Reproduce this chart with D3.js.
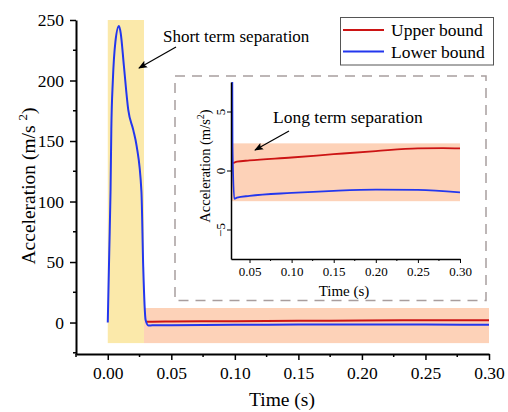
<!DOCTYPE html>
<html>
<head>
<meta charset="utf-8">
<script src="https://cdn.jsdelivr.net/npm/d3@7"></script>
<style>
  body { margin: 0; background: #fff; }
  svg text { font-family: "Liberation Serif", "Times New Roman", "DejaVu Serif", serif !important; fill: #000; }
</style>
</head>
<body>
<svg id="chart" width="508" height="412"></svg>
<script>
// data
var lowerTime  = [0, 0.0012, 0.0022, 0.0028, 0.004, 0.006, 0.0088, 0.0102, 0.0127, 0.0161, 0.0201, 0.0227, 0.0265, 0.0279, 0.0298, 0.0319, 0.035, 0.05, 0.1, 0.15, 0.2, 0.25, 0.3]
var lowerAccel = [0, 60, 110, 160, 200, 232, 245, 239, 212, 176, 159, 146, 108, 46, 2, -2.4, -2.3, -2.15, -1.9, -1.72, -1.62, -1.65, -1.85]
var upperTime  = [0.0305, 0.035, 0.05, 0.1, 0.15, 0.2, 0.25, 0.28, 0.3]
var upperAccel = [0.62, 0.75, 0.85, 1.1, 1.38, 1.65, 1.88, 1.9, 1.88]

var shortBand = {x0: 0, x1: 0.0285, y0: -17, y1: 250}
var longBand  = {x0: 0.0285, x1: 0.30, y0: -17, y1: 12}
var insetBand = {y0: -2.6, y1: 2.3}

var mainXTicks = [0, 0.05, 0.10, 0.15, 0.20, 0.25, 0.30]
var mainYTicks = [0, 50, 100, 150, 200, 250]
var insetXTicks = [0.05, 0.10, 0.15, 0.20, 0.25, 0.30]
var insetYTicks = [-5, 0, 5]

var seriesNames = ['Upper bound', 'Lower bound']
var colors = {upper: '#cc1414', lower: '#2337ee'}

var lower = lowerTime.map(function (t, i) { return {t: t, a: lowerAccel[i]} })
var upper = upperTime.map(function (t, i) { return {t: t, a: upperAccel[i]} })

var svg = d3.select('#chart')

svg.append('defs').append('marker')
  .attr('id', 'arrow')
  .attr('viewBox', '0 0 10 10')
  .attr('refX', 9).attr('refY', 5)
  .attr('markerWidth', 9).attr('markerHeight', 9)
  .attr('markerUnits', 'userSpaceOnUse')
  .attr('orient', 'auto')
  .append('path').attr('d', 'M0,1 L10,5 L0,9 L2,5 Z').attr('fill', '#000')

// main chart
var x = d3.scaleLinear().domain([-0.025, 0.30]).range([76, 489])
var y = d3.scaleLinear().domain([-26, 250]).range([354, 20])

svg.append('rect')
  .attr('x', x(shortBand.x0)).attr('width', x(shortBand.x1) - x(shortBand.x0))
  .attr('y', y(shortBand.y1)).attr('height', y(shortBand.y0) - y(shortBand.y1))
  .attr('fill', '#fbe9aa')
svg.append('rect')
  .attr('x', x(longBand.x0)).attr('width', x(longBand.x1) - x(longBand.x0))
  .attr('y', y(longBand.y1)).attr('height', y(longBand.y0) - y(longBand.y1))
  .attr('fill', '#fdd2b8')

var line = d3.line().x(function (d) { return x(d.t) }).y(function (d) { return y(d.a) }).curve(d3.curveMonotoneX)
svg.append('path').datum(upper).attr('d', line).attr('fill', 'none').attr('stroke', colors.upper).attr('stroke-width', 2)
svg.append('path').datum(lower).attr('d', line).attr('fill', 'none').attr('stroke', colors.lower).attr('stroke-width', 2)

// axes (origin style, minor ticks between majors)
var xAxis = svg.append('g').attr('transform', 'translate(0,354)')
  .call(d3.axisBottom(x).tickValues(mainXTicks).tickFormat(d3.format('.2f')).tickSizeInner(6).tickSizeOuter(0).tickPadding(7))
xAxis.append('g').selectAll('line').data(d3.range(-0.025, 0.30, 0.05))
  .enter().append('line').attr('x1', function (d) { return x(d) }).attr('x2', function (d) { return x(d) })
  .attr('y1', 0).attr('y2', 3).attr('stroke', '#000').attr('stroke-width', 1.5)
var yAxis = svg.append('g').attr('transform', 'translate(76,0)')
  .call(d3.axisLeft(y).tickValues(mainYTicks).tickSizeInner(6).tickSizeOuter(0).tickPadding(6))
yAxis.append('g').selectAll('line').data([-25, 25, 75, 125, 175, 225])
  .enter().append('line').attr('y1', function (d) { return y(d) }).attr('y2', function (d) { return y(d) })
  .attr('x1', 0).attr('x2', -3).attr('stroke', '#000').attr('stroke-width', 1.5)
;[xAxis, yAxis].forEach(function (g) {
  g.attr('font-family', null).attr('font-size', null)
  g.select('.domain').attr('stroke', '#000').attr('stroke-width', 2)
  g.selectAll('.tick line').attr('stroke-width', 1.5)
  g.selectAll('.tick text').attr('font-size', 17.5)
})

svg.append('text').attr('x', 282).attr('y', 406).attr('text-anchor', 'middle')
  .attr('font-size', 19.5).text('Time (s)')
var yl = svg.append('text').attr('transform', 'translate(35,186) rotate(-90)').attr('text-anchor', 'middle')
  .attr('font-size', 19.5)
yl.append('tspan').text('Acceleration (m/s  ')
yl.append('tspan').attr('font-size', 13).attr('dy', -8).text('2')
yl.append('tspan').attr('dy', 8).text(')')

// short term annotation
svg.append('text').attr('x', 163).attr('y', 42).attr('font-size', 17).text('Short term separation')
svg.append('line').attr('x1', 176).attr('y1', 47).attr('x2', 139).attr('y2', 68)
  .attr('stroke', '#000').attr('stroke-width', 1.2).attr('marker-end', 'url(#arrow)')

// legend
var legend = svg.append('g')
legend.append('rect').attr('x', 340.5).attr('y', 17.5).attr('width', 153).attr('height', 47.5)
  .attr('fill', '#fff').attr('stroke', '#555').attr('stroke-width', 1)
seriesNames.forEach(function (name, i) {
  var ly = 30 + i * 21.5
  legend.append('line').attr('x1', 343).attr('x2', 384).attr('y1', ly).attr('y2', ly)
    .attr('stroke', i == 0 ? colors.upper : colors.lower).attr('stroke-width', 2)
  legend.append('text').attr('x', 391).attr('y', ly + 6).attr('font-size', 17.5).text(name)
})

// dashed frame round the inset
svg.append('rect').attr('x', 175).attr('y', 76).attr('width', 311).attr('height', 224.5)
  .attr('fill', 'none').attr('stroke', '#a89e9e').attr('stroke-width', 1.5).attr('stroke-dasharray', '10,7')

// inset
var ix = d3.scaleLinear().domain([0.028, 0.30]).range([231, 460])
var iy = d3.scaleLinear().domain([-7.5, 7.5]).range([259, 82])

svg.append('clipPath').attr('id', 'insetClip').append('rect')
  .attr('x', 231).attr('y', 82).attr('width', 229).attr('height', 177)

svg.append('rect')
  .attr('x', ix(0.028)).attr('width', ix(0.30) - ix(0.028))
  .attr('y', iy(insetBand.y1)).attr('height', iy(insetBand.y0) - iy(insetBand.y1))
  .attr('fill', '#fdd2b8')

var iline = d3.line().x(function (d) { return ix(d.t) }).y(function (d) { return iy(d.a) }).curve(d3.curveMonotoneX)
var inset = svg.append('g').attr('clip-path', 'url(#insetClip)')
inset.append('path').datum(upper).attr('d', iline).attr('fill', 'none').attr('stroke', colors.upper).attr('stroke-width', 1.8)
inset.append('path').datum(lower).attr('d', iline).attr('fill', 'none').attr('stroke', colors.lower).attr('stroke-width', 1.8)

var ixAxis = svg.append('g').attr('transform', 'translate(0,259)')
  .call(d3.axisBottom(ix).tickValues(insetXTicks).tickFormat(d3.format('.2f')).tickSizeInner(4).tickSizeOuter(0).tickPadding(4))
ixAxis.append('g').selectAll('line').data([0.075, 0.125, 0.175, 0.225, 0.275])
  .enter().append('line').attr('x1', function (d) { return ix(d) }).attr('x2', function (d) { return ix(d) })
  .attr('y1', 0).attr('y2', 2).attr('stroke', '#000')
var iyAxis = svg.append('g').attr('transform', 'translate(231,0)')
  .call(d3.axisLeft(iy).tickValues(insetYTicks).tickSizeInner(4).tickSizeOuter(0).tickPadding(4))
;[ixAxis, iyAxis].forEach(function (g) {
  g.attr('font-family', null).attr('font-size', null)
  g.select('.domain').attr('stroke', '#000').attr('stroke-width', 1.5)
  g.selectAll('.tick text').attr('font-size', 13)
})
iyAxis.selectAll('.tick text')
  .attr('text-anchor', 'middle').attr('dy', null).attr('x', null)
  .attr('transform', 'translate(-11,0) rotate(-90)').attr('dominant-baseline', 'central')

svg.append('text').attr('x', 344).attr('y', 296).attr('text-anchor', 'middle')
  .attr('font-size', 15).text('Time (s)')
var iyl = svg.append('text').attr('transform', 'translate(210,166) rotate(-90)').attr('text-anchor', 'middle')
  .attr('font-size', 14.5)
iyl.append('tspan').text('Acceleration (m/s')
iyl.append('tspan').attr('font-size', 10).attr('dy', -6).text('2')
iyl.append('tspan').attr('dy', 6).text(')')

// long term annotation
svg.append('text').attr('x', 273).attr('y', 123).attr('font-size', 17.5).text('Long term separation')
svg.append('line').attr('x1', 289).attr('y1', 131).attr('x2', 255).attr('y2', 150)
  .attr('stroke', '#000').attr('stroke-width', 1.2).attr('marker-end', 'url(#arrow)')
</script>
</body>
</html>
